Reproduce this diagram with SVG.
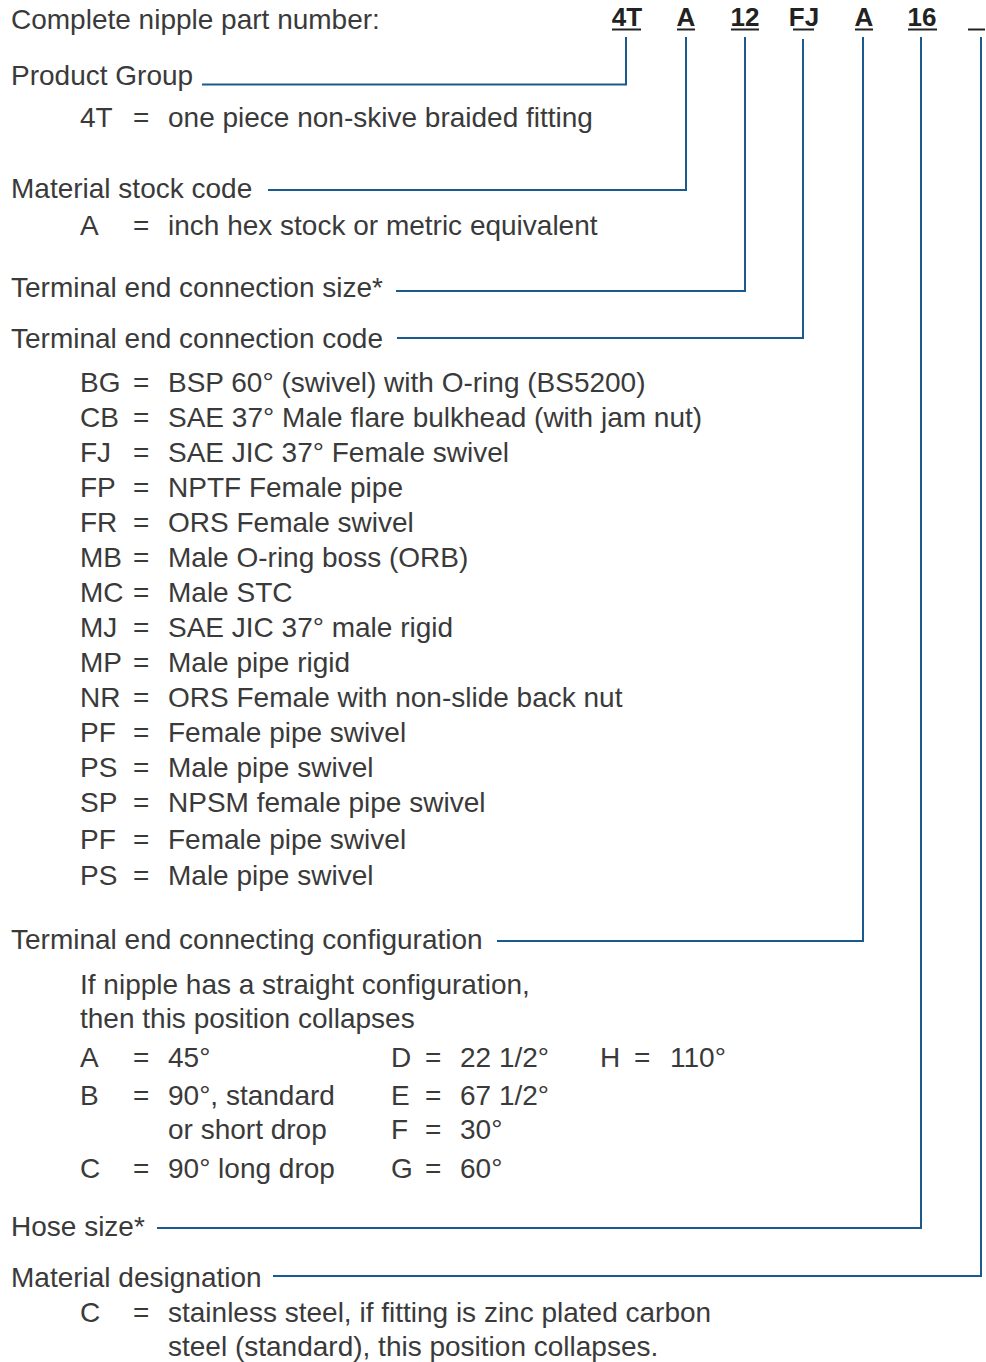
<svg xmlns="http://www.w3.org/2000/svg" width="986" height="1362" viewBox="0 0 986 1362">
<style>
text{font-family:"Liberation Sans",Arial,sans-serif;font-size:28px;fill:#3a3a3a}
.b{font-weight:bold;font-size:26px;fill:#222;text-anchor:middle}
.ul{stroke:#222;stroke-width:2}
.c{fill:none;stroke:#1a5a8e;stroke-width:2}
</style>
<rect width="986" height="1362" fill="#fff"/>
<g id="title"><text x="11" y="29">Complete nipple part number:</text></g>
<g id="code">
<text class="b" x="627" y="26">4T</text><line class="ul" x1="612" y1="29.5" x2="641" y2="29.5"/>
<text class="b" x="686" y="26">A</text><line class="ul" x1="677" y1="29.5" x2="695" y2="29.5"/>
<text class="b" x="745" y="26">12</text><line class="ul" x1="731" y1="29.5" x2="759" y2="29.5"/>
<text class="b" x="804" y="26">FJ</text><line class="ul" x1="793" y1="29.5" x2="814" y2="29.5"/>
<text class="b" x="864" y="26">A</text><line class="ul" x1="855" y1="29.5" x2="873" y2="29.5"/>
<text class="b" x="922" y="26">16</text><line class="ul" x1="908" y1="29.5" x2="937" y2="29.5"/>
<line class="ul" x1="968" y1="29.5" x2="985" y2="29.5"/>
</g>
<g id="connectors">
<polyline class="c" points="626,37 626,84.5 202,84.5"/>
<polyline class="c" points="686,37 686,190 268,190"/>
<polyline class="c" points="745,37 745,291 396,291"/>
<polyline class="c" points="803,39 803,338 397,338"/>
<polyline class="c" points="863,37 863,941 497,941"/>
<polyline class="c" points="921,37 921,1228 157,1228"/>
<polyline class="c" points="981,37 981,1276 273,1276"/>
</g>
<g id="product-group">
<text x="11" y="85">Product Group</text>
<text x="80" y="127">4T</text><text x="133" y="127">=</text><text x="168" y="127">one piece non-skive braided fitting</text>
</g>
<g id="material-stock">
<text x="11" y="198">Material stock code</text>
<text x="80" y="235">A</text><text x="133" y="235">=</text><text x="168" y="235">inch hex stock or metric equivalent</text>
</g>
<g id="connection-size"><text x="11" y="297">Terminal end connection size*</text></g>
<g id="connection-code">
<text x="11" y="348">Terminal end connection code</text>
<text x="80" y="392">BG</text><text x="133" y="392">=</text><text x="168" y="392">BSP 60° (swivel) with O-ring (BS5200)</text>
<text x="80" y="427">CB</text><text x="133" y="427">=</text><text x="168" y="427">SAE 37° Male flare bulkhead (with jam nut)</text>
<text x="80" y="462">FJ</text><text x="133" y="462">=</text><text x="168" y="462">SAE JIC 37° Female swivel</text>
<text x="80" y="497">FP</text><text x="133" y="497">=</text><text x="168" y="497">NPTF Female pipe</text>
<text x="80" y="532">FR</text><text x="133" y="532">=</text><text x="168" y="532">ORS Female swivel</text>
<text x="80" y="567">MB</text><text x="133" y="567">=</text><text x="168" y="567">Male O-ring boss (ORB)</text>
<text x="80" y="602">MC</text><text x="133" y="602">=</text><text x="168" y="602">Male STC</text>
<text x="80" y="637">MJ</text><text x="133" y="637">=</text><text x="168" y="637">SAE JIC 37° male rigid</text>
<text x="80" y="672">MP</text><text x="133" y="672">=</text><text x="168" y="672">Male pipe rigid</text>
<text x="80" y="707">NR</text><text x="133" y="707">=</text><text x="168" y="707">ORS Female with non-slide back nut</text>
<text x="80" y="742">PF</text><text x="133" y="742">=</text><text x="168" y="742">Female pipe swivel</text>
<text x="80" y="777">PS</text><text x="133" y="777">=</text><text x="168" y="777">Male pipe swivel</text>
<text x="80" y="812">SP</text><text x="133" y="812">=</text><text x="168" y="812">NPSM female pipe swivel</text>
<text x="80" y="849">PF</text><text x="133" y="849">=</text><text x="168" y="849">Female pipe swivel</text>
<text x="80" y="885">PS</text><text x="133" y="885">=</text><text x="168" y="885">Male pipe swivel</text>
</g>
<g id="configuration">
<text x="11" y="949">Terminal end connecting configuration</text>
<text x="80" y="994">If nipple has a straight configuration,</text>
<text x="80" y="1028">then this position collapses</text>
<text x="80" y="1067">A</text><text x="133" y="1067">=</text><text x="168" y="1067">45°</text>
<text x="391" y="1067">D</text><text x="425" y="1067">=</text><text x="460" y="1067">22 1/2°</text>
<text x="600" y="1067">H</text><text x="634" y="1067">=</text><text x="670" y="1067">110°</text>
<text x="80" y="1105">B</text><text x="133" y="1105">=</text><text x="168" y="1105">90°, standard</text>
<text x="391" y="1105">E</text><text x="425" y="1105">=</text><text x="460" y="1105">67 1/2°</text>
<text x="168" y="1139">or short drop</text>
<text x="391" y="1139">F</text><text x="425" y="1139">=</text><text x="460" y="1139">30°</text>
<text x="80" y="1178">C</text><text x="133" y="1178">=</text><text x="168" y="1178">90° long drop</text>
<text x="391" y="1178">G</text><text x="425" y="1178">=</text><text x="460" y="1178">60°</text>
</g>
<g id="hose-size"><text x="11" y="1236">Hose size*</text></g>
<g id="material-designation">
<text x="11" y="1287">Material designation</text>
<text x="80" y="1322">C</text><text x="133" y="1322">=</text><text x="168" y="1322">stainless steel, if fitting is zinc plated carbon</text>
<text x="168" y="1356">steel (standard), this position collapses.</text>
</g>
</svg>
